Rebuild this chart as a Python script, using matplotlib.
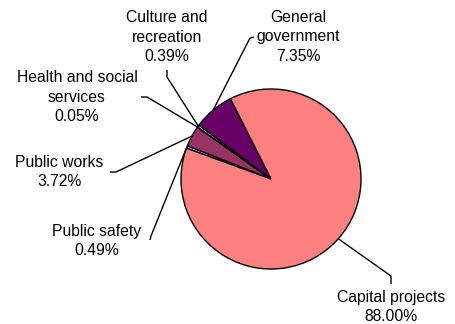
import numpy as np
import matplotlib.pyplot as plt

plt.rcParams['font.family'] = ['Liberation Sans', 'DejaVu Sans']

# data (clockwise order, Excel style)
categories = ["Public safety", "Public works", "Health and social services",
              "Culture and recreation", "General government", "Capital projects"]
values = [0.49, 3.72, 0.05, 0.39, 7.35, 88.00]
colors = ["#9999FF", "#993366", "#FFFFCC", "#CCFFFF", "#660066", "#FF8080"]
labels = ["Public safety\n0.49%", "Public works\n3.72%", "Health and social\nservices\n0.05%",
          "Culture and\nrecreation\n0.39%", "General\ngovernment\n7.35%", "Capital projects\n88.00%"]

W, H = 455, 324
fig = plt.figure(figsize=(W / 100, H / 100), dpi=100)
ax = fig.add_axes([0, 0, 1, 1])

cx, cy, r = 271, H - 179, 90
wedges, _ = ax.pie(values, colors=colors, startangle=160, counterclock=False,
                   center=(cx, cy), radius=r,
                   wedgeprops=dict(edgecolor="black", linewidth=1))

# label centres and leader start/elbow in image pixel coords
text_pos = [(97, 241), (59, 172), (77, 97), (167, 37), (298, 37), (391, 307)]
leader = [[(150, 240), (151, 236)],
          [(110, 172), (116, 172)],
          [(141, 97), (147, 97)],
          [(167, 70), (167, 77)],
          [(254, 37), (250, 38)],
          [(391, 284), (391, 276)]]

for w, lab, (tx, ty), pts in zip(wedges, labels, text_pos, leader):
    ang = np.deg2rad((w.theta1 + w.theta2) / 2)
    ex, ey = cx + r * np.cos(ang), cy + r * np.sin(ang)
    xs = [p[0] for p in pts] + [ex]
    ys = [H - p[1] for p in pts] + [ey]
    ax.plot(xs, ys, color="black", lw=1, solid_capstyle="butt")
    ax.text(tx, H - ty, lab, ha="center", va="center", fontsize=11.3,
            linespacing=1.38, color="black")

ax.set_xlim(0, W)
ax.set_ylim(0, H)
ax.set_aspect("equal")
ax.axis("off")

fig.savefig("out.png", dpi=100)
